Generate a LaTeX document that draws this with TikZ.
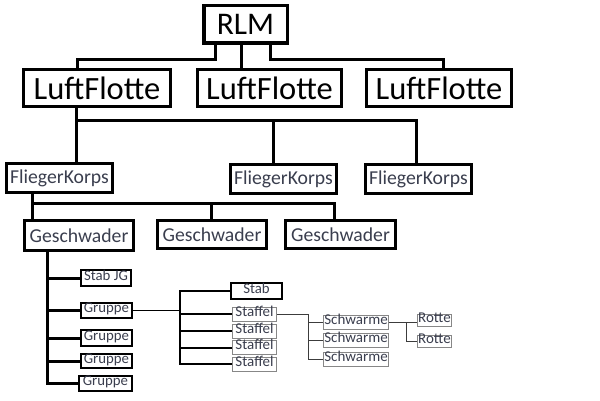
\documentclass[tikz,border=0pt]{standalone}
\usepackage{fontspec}
\setmainfont{Carlito}
\definecolor{tekst}{RGB}{58,62,78}
\definecolor{ramka}{RGB}{135,135,135}
\definecolor{linija}{RGB}{60,60,60}

\begin{document}
\begin{tikzpicture}[x=1pt,y=-1pt,line join=miter,
		big/.style={draw,line width=3pt,inner sep=0pt,minimum height=37pt,font=\fontsize{32.5}{32.5}\selectfont},
		mid/.style={draw,line width=3pt,inner sep=0pt,minimum height=29pt,text=tekst,font=\fontsize{19.7}{19.7}\selectfont},
		small/.style={draw,line width=2pt,inner sep=0pt,minimum height=16pt,text=tekst,text height=0.66em,text depth=0.2em,font=\fontsize{14.8}{14.8}\selectfont},
		tiny/.style={draw=ramka,line width=1pt,inner sep=0pt,minimum height=14pt,text=tekst,text height=0.66em,text depth=0.2em,font=\fontsize{15}{15}\selectfont},
		fat/.style={line width=3pt},
		thinline/.style={line width=1pt,draw=linija}]
		\useasboundingbox (0,0) rectangle (600,401);

		% верх
		\node[big,line width=3.5pt,minimum width=83.5pt,minimum height=37.5pt,font=\fontsize{31.5}{31.5}\selectfont] (rlm) at (245.5,24.5) {RLM};
		\node[big,minimum width=147pt] (lf1) at (97,88) {LuftFlotte};
		\node[big,minimum width=144pt] (lf2) at (269.5,88) {LuftFlotte};
		\node[big,minimum width=145pt] (lf3) at (439,88.5) {LuftFlotte};

		\node[mid,minimum width=106pt] (fk1) at (59.5,178) {FliegerKorps};
		\node[mid,minimum width=106pt] (fk2) at (283.5,179) {FliegerKorps};
		\node[mid,minimum width=106pt] (fk3) at (418.5,179) {FliegerKorps};

		\node[mid,minimum width=109pt,minimum height=30pt] (gs1) at (79,235.5) {Geschwader};
		\node[mid,minimum width=109pt,minimum height=28pt] (gs2) at (212,234.5) {Geschwader};
		\node[mid,minimum width=110pt,minimum height=28pt] (gs3) at (340.5,234.5) {Geschwader};

		% низ
		\node[small,minimum width=50pt] (sj) at (106,278) {Stab JG};
		\node[small,minimum width=51pt,minimum height=15pt] (g1) at (106.5,310.5) {Gruppe};
		\node[small,minimum width=51pt] (g2) at (106.5,338) {Gruppe};
		\node[small,minimum width=51pt,minimum height=14pt] (g3) at (106.5,361) {Gruppe};
		\node[small,minimum width=53pt,minimum height=15pt] (g4) at (105.5,383.5) {Gruppe};
		\node[small,minimum width=51pt] (stab) at (256.5,291) {Stab};

		\node[tiny,minimum width=44pt] (sf1) at (254.5,314) {Staffel};
		\node[tiny,minimum width=44pt] (sf2) at (254.5,331) {Staffel};
		\node[tiny,minimum width=44pt] (sf3) at (254.5,347.5) {Staffel};
		\node[tiny,minimum width=44pt] (sf4) at (254.5,364) {Staffel};

		\node[tiny,minimum width=65pt] (sw1) at (356,322.5) {Schwarme};
		\node[tiny,minimum width=65pt] (sw2) at (356,340) {Schwarme};
		\node[tiny,minimum width=65pt] (sw3) at (356,359.5) {Schwarme};

		\node[tiny,minimum width=34pt,minimum height=12pt] (r1) at (434.5,320.5) {Rotte};
		\node[tiny,minimum width=34pt,minimum height=12pt] (r2) at (434.5,341.5) {Rotte};

		% линии
		\draw[fat] ([xshift=-30.5pt]rlm.south) -- ++(0,15) -| ([xshift=-20pt]lf1.north);
		\draw[fat] ([xshift=-4.5pt]rlm.south) -- ([xshift=-4.5pt]rlm.south |- lf2.north);
		\draw[fat] ([xshift=24.5pt]rlm.south) -- ++(0,15) -| ([xshift=4pt]lf3.north);

		\draw[fat] ([xshift=-21pt]lf1.south) -- ++(0,12.5) coordinate (lfbus) -| ([xshift=-10.5pt]fk2.north);
		\draw[fat] (lfbus) -| ([xshift=-2.5pt]fk3.north);
		\draw[fat] (lfbus) -- (lfbus |- fk1.north);

		\draw[fat] ([xshift=-27.5pt]fk1.south) -- ++(0,9.5) coordinate (fkbus) -| ([xshift=-6.5pt]gs3.north);
		\draw[fat] (fkbus) -| ([xshift=-1pt]gs2.north);
		\draw[fat] (fkbus) -- (fkbus |- gs1.north);

		\draw[fat] ([xshift=-32pt]gs1.south) coordinate (gtr) |- (g4.west);
		\foreach \n in {sj,g1,g2,g3}
			\draw[fat] (gtr |- \n.west) -- (\n.west);

		\draw[line width=1.3pt] (g1.east) -- ++(47,0) coordinate (sfbus);
		\draw[line width=2.5pt] (stab.west) -- (sfbus |- stab.west) -- (sfbus |- sf4.west) -- (sf4.west);
		\foreach \n in {sf1,sf2,sf3}
			\draw[line width=2pt] (sfbus |- \n.west) -- (\n.west);

		\draw[thinline] (sf1.east) -- ++(31.5,0) coordinate (swbus) |- (sw3.west);
		\foreach \n in {sw1,sw2}
			\draw[thinline] (swbus |- \n.west) -- (\n.west);

		\draw[thinline] (sw1.east) -- ++(17.5,0) coordinate (rbus) |- (r2.west);
		\draw[thinline] (rbus) -- (rbus -| r1.west);
	\end{tikzpicture}
\end{document}
